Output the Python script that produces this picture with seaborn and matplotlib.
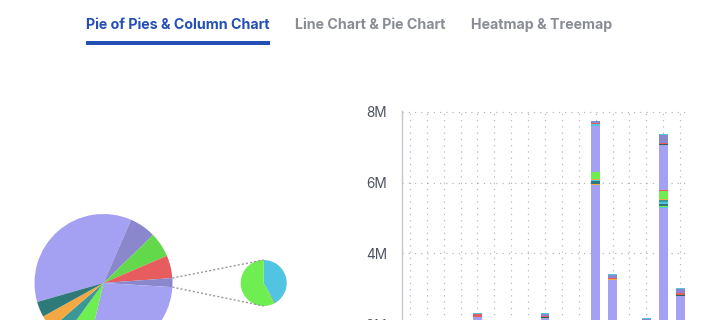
import matplotlib
matplotlib.use("Agg")
import numpy as np
import pandas as pd
import matplotlib.pyplot as plt
import seaborn as sns
from matplotlib.ticker import FuncFormatter, FixedLocator
from matplotlib.patches import Rectangle
from matplotlib.lines import Line2D

# ---------------- data ----------------
tabs = ["Pie of Pies & Column Chart", "Line Chart & Pie Chart", "Heatmap & Treemap"]

# main pie (clockwise from the large slice), values in %
pie_labels = ["P1", "P2", "P3", "P4", "Other", "P5", "P6", "P7", "P8", "P9"]
pie_values = [36.0, 6.2, 5.8, 5.3, 2.1, 27.7, 6.4, 3.6, 3.3, 3.6]
pie_colors = ["#a4a0f2", "#8a87cc", "#62d84a", "#e65c5f", "#8a87cc",
              "#a4a0f2", "#6eee50", "#3b9896", "#f4a843", "#2d7a78"]
other_index = 4

# secondary pie (breakdown of "Other")
sub_labels = ["O1", "O2", "O3"]
sub_values = [41.4, 0.8, 57.8]
sub_colors = ["#50c4e0", "#6a8fb3", "#6eee50"]

# column chart: 17 categories, stacked series (values in millions)
categories = ["C01", "C02", "C03", "C04", "C05", "C06", "C07", "C08", "C09",
              "C10", "C11", "C12", "C13", "C14", "C15", "C16", "C17"]
s_base      = [0.9, 0.4, 1.2, 0.6, 2.2, 0.3, 0.8, 1.1, 2.18, 0.5, 1.4, 5.93, 3.25, 0.7, 2.08, 5.27, 2.805]
s_cyan_low  = [0, 0, 0, 0, 0, 0, 0, 0, 0, 0, 0, 0,    0,    0, 0, 0.04,  0]
s_orange_lo = [0, 0, 0, 0, 0, 0, 0, 0, 0, 0, 0, 0.04, 0,    0, 0, 0,     0]
s_green_low = [0, 0, 0, 0, 0, 0, 0, 0, 0, 0, 0, 0,    0,    0, 0, 0.035, 0]
s_darkteal  = [0, 0, 0, 0, 0, 0, 0, 0, 0, 0, 0, 0.06, 0,    0, 0, 0.055, 0]
s_cyan_mid  = [0, 0, 0, 0, 0, 0, 0, 0, 0, 0, 0, 0.05, 0,    0, 0, 0.055, 0]
s_teal      = [0, 0, 0, 0, 0, 0, 0, 0, 0, 0, 0, 0,    0,    0, 0, 0.055, 0]
s_orange    = [0, 0, 0, 0, 0, 0, 0, 0, 0, 0, 0, 0.03, 0.03, 0, 0, 0.02,  0]
s_green     = [0, 0, 0, 0, 0, 0, 0, 0, 0, 0, 0, 0.19, 0,    0, 0, 0.225, 0]
s_red_low   = [0, 0, 0, 0, 0, 0, 0, 0, 0, 0, 0, 0,    0,    0, 0, 0.03,  0]
s_lavender2 = [0, 0, 0, 0, 0, 0, 0, 0, 0, 0, 0, 1.31, 0,    0, 0, 1.28,  0]
s_cyan_hi   = [0, 0, 0, 0, 0, 0, 0, 0, 0, 0, 0, 0.03, 0,    0, 0, 0,     0]
s_dark      = [0, 0, 0, 0, 0, 0, 0, 0, 0.03, 0, 0, 0, 0,    0, 0, 0.03,  0.03]
s_red       = [0, 0, 0, 0, 0.085, 0, 0, 0, 0.03, 0, 0, 0.03, 0.025, 0, 0, 0.03, 0.04]
s_purple    = [0, 0, 0, 0, 0, 0, 0, 0, 0.05, 0, 0, 0.06, 0.09, 0, 0.05, 0.22, 0.11]
s_cyan_top  = [0, 0, 0, 0, 0.03, 0, 0, 0, 0.03, 0, 0, 0, 0.03, 0, 0.03, 0.03, 0.03]

series = [s_base, s_cyan_low, s_orange_lo, s_green_low, s_darkteal, s_cyan_mid,
          s_teal, s_orange, s_green, s_red_low, s_lavender2, s_cyan_hi, s_dark,
          s_red, s_purple, s_cyan_top]
series_colors = ["#a4a0f2", "#50c4e0", "#f4a843", "#6eee50", "#2d7a78", "#50c4e0",
                 "#3b9896", "#f4a843", "#6eee50", "#e65c5f", "#a4a0f2", "#50c4e0",
                 "#2d5f5c", "#e65c5f", "#8a87cc", "#50c4e0"]
y_ticks = [0, 2, 4, 6, 8]

# ---------------- styling ----------------
sns.set_theme(style="white")
plt.rcParams["font.family"] = ["Inter", "DejaVu Sans"]

W, H, DPI = 720, 320, 100
fig = plt.figure(figsize=(W / DPI, H / DPI), dpi=DPI)
fig.patch.set_facecolor("white")

def fx(px):
    return px / W

def fy(py_top):
    return (H - py_top) / H

# ---------------- header tabs ----------------
renderer = fig.canvas.get_renderer()
tab_x = [86, 295, 471]
tab_colors = ["#2450b4", "#8a8d96", "#8a8d96"]
target_w = 184.0
fs = 10.0
t0 = fig.text(fx(tab_x[0]), fy(25), tabs[0], fontsize=fs, fontweight="bold",
              color=tab_colors[0], va="center", ha="left")
w0 = t0.get_window_extent(renderer).width
fs = fs * target_w / w0
t0.set_fontsize(fs)
for i in (1, 2):
    fig.text(fx(tab_x[i]), fy(25), tabs[i], fontsize=fs, fontweight="bold",
             color=tab_colors[i], va="center", ha="left")
bb = t0.get_window_extent(renderer)
fig.patches.append(Rectangle((fx(bb.x0), fy(45)), bb.width / W, 4 / H,
                             transform=fig.transFigure, color=tab_colors[0],
                             linewidth=0))

# ---------------- pie of pies ----------------
axp = fig.add_axes([0, 0, 1, 1])
main_c, main_r = (103.5, H - 283), 69
sub_c, sub_r = (263.7, H - 283), 23
wedges, _ = axp.pie(pie_values, colors=pie_colors, startangle=196,
                    counterclock=False, center=main_c, radius=main_r,
                    wedgeprops=dict(linewidth=0), normalize=True)
axp.pie(sub_values, colors=sub_colors, startangle=90, counterclock=False,
        center=sub_c, radius=sub_r, wedgeprops=dict(linewidth=0), normalize=True)
w = wedges[other_index]
for ang, sy in ((w.theta2, sub_r), (w.theta1, -sub_r)):
    x0 = main_c[0] + main_r * np.cos(np.radians(ang))
    y0 = main_c[1] + main_r * np.sin(np.radians(ang))
    axp.add_line(Line2D([x0, sub_c[0]], [y0, sub_c[1] + sy], color="#9a9a9a",
                        linewidth=1.0, linestyle=(0, (1.5, 1.5))))
axp.set_xlim(0, W)
axp.set_ylim(0, H)
axp.set_aspect("auto")
axp.axis("off")

# ---------------- stacked column chart ----------------
y0px = 394.9      # pixel row of value 0
ppm = 35.4        # pixels per million
left, right = 401.5, 688.5
axb = fig.add_axes([fx(left), (H - y0px) / H, (right - left) / W, (8.02 * ppm) / H])
cum = np.zeros(len(categories))
for vals, col in zip(series, series_colors):
    v = np.asarray(vals, dtype=float)
    df = pd.DataFrame({"cat": categories, "val": v})
    sns.barplot(data=df, x="cat", y="val", order=categories, color=col,
                saturation=1, errorbar=None, width=0.53, bottom=cum,
                linewidth=0, ax=axb)
    cum = cum + v

axb.set_xlim(-0.5, len(categories) - 0.5)
axb.set_ylim(0, 8.02)
axb.yaxis.set_major_locator(FixedLocator(y_ticks))
axb.yaxis.set_major_formatter(FuncFormatter(lambda v, p: f"{int(round(v))}M"))
axb.set_xlabel("")
axb.set_ylabel("")
axb.set_xticklabels([])
axb.set_axisbelow(True)
axb.grid(True, axis="both", color="#b3b3ba", linewidth=0.85,
         linestyle=(0, (1, 4.3)))
for s in ("top", "right", "bottom"):
    axb.spines[s].set_visible(False)
axb.spines["left"].set_color("#c6c6ce")
axb.spines["left"].set_linewidth(1.0)
axb.tick_params(axis="both", length=0)
axb.tick_params(axis="y", pad=10.5, labelsize=9.8, labelcolor="#4d5260")
axb.set_facecolor("none")

fig.savefig("out.png", dpi=DPI, facecolor="white")
